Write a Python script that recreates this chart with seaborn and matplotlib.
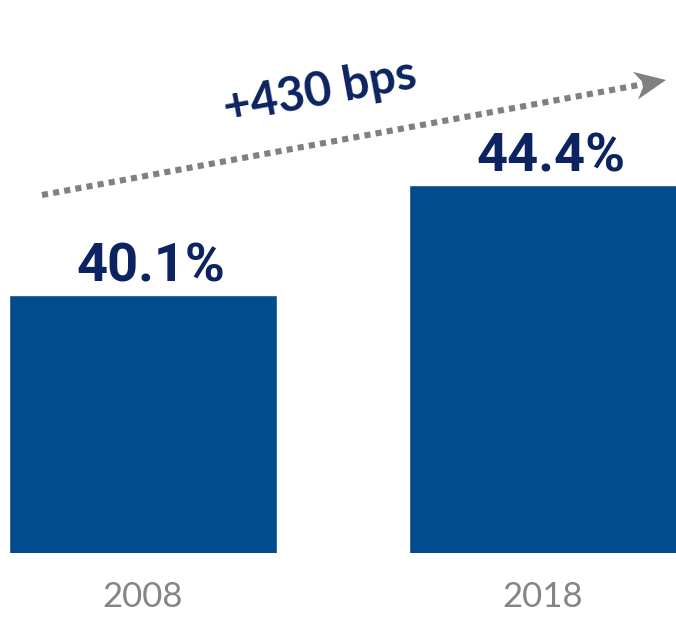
import matplotlib
matplotlib.use("Agg")
import numpy as np
import matplotlib.pyplot as plt
import seaborn as sns
import pandas as pd
from matplotlib.lines import Line2D
from matplotlib.patches import Polygon

years = ["2008", "2018"]
shares = [40.1, 44.4]
value_labels = ["40.1%", "44.4%"]
change_label = "+430 bps"

bar_color = "#004C8C"
label_color = "#0B2461"
grey = "#808080"

sns.set_theme(style="white")
plt.rcParams["font.family"] = ["DejaVu Sans"]

df = pd.DataFrame({"year": years, "share": shares})

W, H = 676, 621
fig = plt.figure(figsize=(W / 100, H / 100), dpi=100)
ax = fig.add_axes([0, 68 / H, 1, 553 / H])

sns.barplot(data=df, x="year", y="share", color=bar_color, saturation=1,
            width=0.67, ax=ax)

ax.set_xlim(-0.357, 1.333)
ax.set_ylim(30, 30 + 553 / 25.58)
ax.set_xlabel("")
ax.set_ylabel("")
ax.set_yticks([])
for s in ax.spines.values():
    s.set_visible(False)
ax.tick_params(axis="x", length=0, pad=20, labelsize=25, labelcolor="#858585")
for t in ax.get_xticklabels():
    t.set_fontfamily(["Lato", "DejaVu Sans"])

for i, (v, lab) in enumerate(zip(shares, value_labels)):
    ax.annotate(lab, xy=(i, v), xytext=(6, 9.5), textcoords="offset points",
                ha="center", va="baseline", fontsize=39, fontweight="bold",
                color=label_color, family=["Roboto", "DejaVu Sans"])


def px(x, y):
    """pixel position (from the top-left corner) to figure fraction"""
    return x / W, 1 - y / H


# dotted trend line ending in a notched arrow head
start = np.array([42.0, 195.0])
tip = np.array([666.0, 80.0])
d = (tip - start) / np.linalg.norm(tip - start)
n = np.array([-d[1], d[0]])
notch = tip - 22 * d
head = [tip, tip - 31 * d + 14 * n, notch, tip - 31 * d - 14 * n]
line_end = notch + 2 * d
(xa, ya), (xb, yb) = px(*start), px(*line_end)
fig.add_artist(Line2D([xa, xb], [ya, yb], transform=fig.transFigure, color=grey,
                      lw=4.4, linestyle=(0, (1.0, 0.85)), dash_capstyle="butt"))
fig.add_artist(Polygon([px(*p) for p in head], closed=True, transform=fig.transFigure,
                       facecolor=grey, edgecolor="none"))

fig.text(*px(320, 92), change_label, rotation=10.5, ha="center", va="center",
         fontsize=34, fontweight="bold", color=label_color,
         family=["Lato", "DejaVu Sans"], rotation_mode="anchor")

fig.savefig("out.png", dpi=100)
